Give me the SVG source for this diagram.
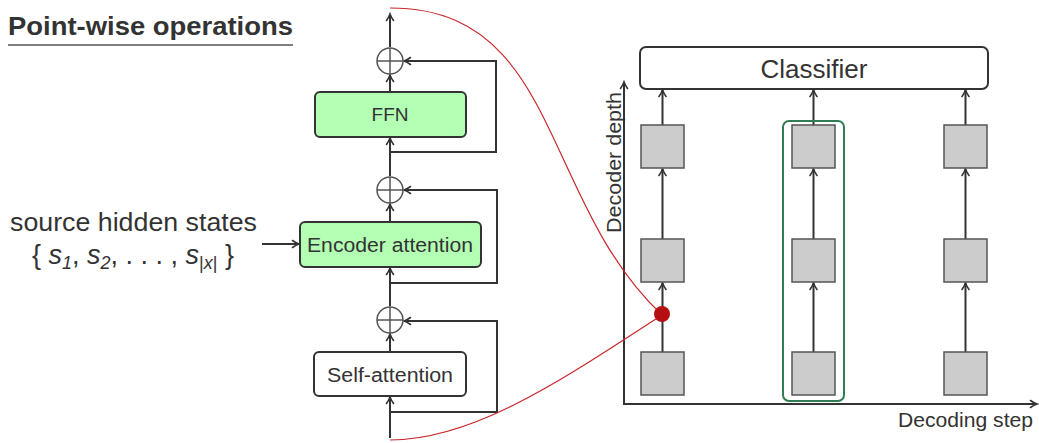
<svg xmlns="http://www.w3.org/2000/svg" width="1039" height="443" viewBox="0 0 1039 443">
<style>
text{font-family:"Liberation Sans",Arial,sans-serif;fill:#333}
.ln{stroke:#333;stroke-width:2;fill:none}
.ar{marker-end:url(#arr)}
.blk{stroke:#333;stroke-width:2}
.sq{fill:#cccccc;stroke:#555;stroke-width:1.5}
.red{stroke:#c8262a;stroke-width:1.2;fill:none}
.plus{fill:#fff;stroke:#555;stroke-width:1.5}
</style>
<defs>
<marker id="arr" markerWidth="10" markerHeight="10" refX="8" refY="5" orient="auto" markerUnits="userSpaceOnUse">
<path d="M1.5,1.5 Q5,4 8,5 Q5,6 1.5,8.5" fill="none" stroke="#333" stroke-width="1.6" stroke-linecap="round"/>
</marker>
</defs>

<g id="title">
<text x="8" y="35" font-size="26" font-weight="bold" textLength="285" lengthAdjust="spacingAndGlyphs">Point-wise operations</text>
<line x1="8" y1="45" x2="293" y2="45" stroke="#555" stroke-width="1.5"/>
</g>

<g id="source">
<text x="10" y="231" font-size="25" textLength="247" lengthAdjust="spacingAndGlyphs">source hidden states</text>
<text x="32" y="264" font-size="27">{<tspan font-style="italic"> s</tspan><tspan font-size="18" font-style="italic" dy="5">1</tspan><tspan dy="-5">, </tspan><tspan font-style="italic">s</tspan><tspan font-size="18" font-style="italic" dy="5">2</tspan><tspan dy="-5">, . . . , </tspan><tspan font-style="italic">s</tspan><tspan font-size="18" dy="5">|</tspan><tspan font-size="18" font-style="italic">x</tspan><tspan font-size="18">|</tspan><tspan dy="-5"> }</tspan></text>
</g>

<g id="connectors">
<line class="ln ar" x1="390" y1="438" x2="390" y2="397"/>
<polyline class="ln ar" points="390,412 497,412 497,321 404,321"/>
<line class="ln ar" x1="390" y1="352" x2="390" y2="334"/>
<line class="ln ar" x1="390" y1="306" x2="390" y2="268"/>
<polyline class="ln ar" points="390,283 497,283 497,190 404,190"/>
<line class="ln ar" x1="390" y1="222" x2="390" y2="204"/>
<line class="ln ar" x1="390" y1="176" x2="390" y2="138"/>
<polyline class="ln ar" points="390,152 496,152 496,61 404,61"/>
<line class="ln ar" x1="390" y1="92" x2="390" y2="75"/>
<line class="ln ar" x1="390" y1="47" x2="390" y2="14"/>
<line class="ln ar" x1="262" y1="244" x2="299" y2="244"/>
<line class="ln ar" x1="624" y1="405" x2="624" y2="82"/>
<line class="ln ar" x1="623" y1="404" x2="1037" y2="404"/>
<line class="ln ar" x1="662.5" y1="125" x2="662.5" y2="90"/>
<line class="ln ar" x1="813.5" y1="125" x2="813.5" y2="90"/>
<line class="ln ar" x1="965.5" y1="125" x2="965.5" y2="90"/>
<line class="ln ar" x1="662.5" y1="239" x2="662.5" y2="169"/>
<line class="ln ar" x1="813.5" y1="239" x2="813.5" y2="169"/>
<line class="ln ar" x1="965.5" y1="239" x2="965.5" y2="169"/>
<line class="ln ar" x1="662.5" y1="352" x2="662.5" y2="283"/>
<line class="ln ar" x1="813.5" y1="352" x2="813.5" y2="283"/>
<line class="ln ar" x1="965.5" y1="352" x2="965.5" y2="283"/>
<path class="red" d="M390,8 C560,8 540,200 662,315"/>
<path class="red" d="M390,440 C475,440 565,378 662,315"/>
</g>

<g id="add1"><circle class="plus" cx="390" cy="61" r="13"/><path d="M377,61 H403 M390,48 V74" stroke="#555" stroke-width="1.5"/></g>
<g id="add2"><circle class="plus" cx="390" cy="190" r="13"/><path d="M377,190 H403 M390,177 V203" stroke="#555" stroke-width="1.5"/></g>
<g id="add3"><circle class="plus" cx="390" cy="320" r="13"/><path d="M377,320 H403 M390,307 V333" stroke="#555" stroke-width="1.5"/></g>

<g id="ffn">
<rect x="315" y="92" width="151" height="45" rx="5" fill="#b3ffb3" class="blk"/>
<text x="390" y="121" font-size="19" text-anchor="middle">FFN</text>
</g>
<g id="encoder-attention">
<rect x="300" y="222" width="181" height="45" rx="5" fill="#b3ffb3" class="blk"/>
<text x="307" y="252" font-size="20" textLength="166" lengthAdjust="spacingAndGlyphs">Encoder attention</text>
</g>
<g id="self-attention">
<rect x="314" y="352" width="152" height="44" rx="5" fill="#fff" class="blk"/>
<text x="327" y="382" font-size="20" textLength="126" lengthAdjust="spacingAndGlyphs">Self-attention</text>
</g>

<g id="classifier">
<rect x="640" y="47" width="348" height="42" rx="6" fill="#fff" class="blk"/>
<text x="814" y="78" font-size="26" text-anchor="middle">Classifier</text>
</g>

<g id="highlight">
<rect x="783" y="121" width="61" height="280" rx="6" fill="none" stroke="#2e7d55" stroke-width="2"/>
</g>

<g id="cells">
<rect class="sq" x="641" y="125" width="43" height="43"/>
<rect class="sq" x="792" y="125" width="43" height="43"/>
<rect class="sq" x="944" y="125" width="43" height="43"/>
<rect class="sq" x="641" y="239" width="43" height="43"/>
<rect class="sq" x="792" y="239" width="43" height="43"/>
<rect class="sq" x="944" y="239" width="43" height="43"/>
<rect class="sq" x="641" y="352" width="43" height="43"/>
<rect class="sq" x="792" y="352" width="43" height="43"/>
<rect class="sq" x="944" y="352" width="43" height="43"/>
</g>

<g id="dot"><circle cx="662" cy="314" r="8" fill="#b50f12"/></g>

<g id="axis-labels">
<text x="898" y="427" font-size="21" textLength="135" lengthAdjust="spacingAndGlyphs">Decoding step</text>
<text transform="translate(621,233) rotate(-90)" font-size="21" textLength="141" lengthAdjust="spacingAndGlyphs">Decoder depth</text>
</g>
</svg>
